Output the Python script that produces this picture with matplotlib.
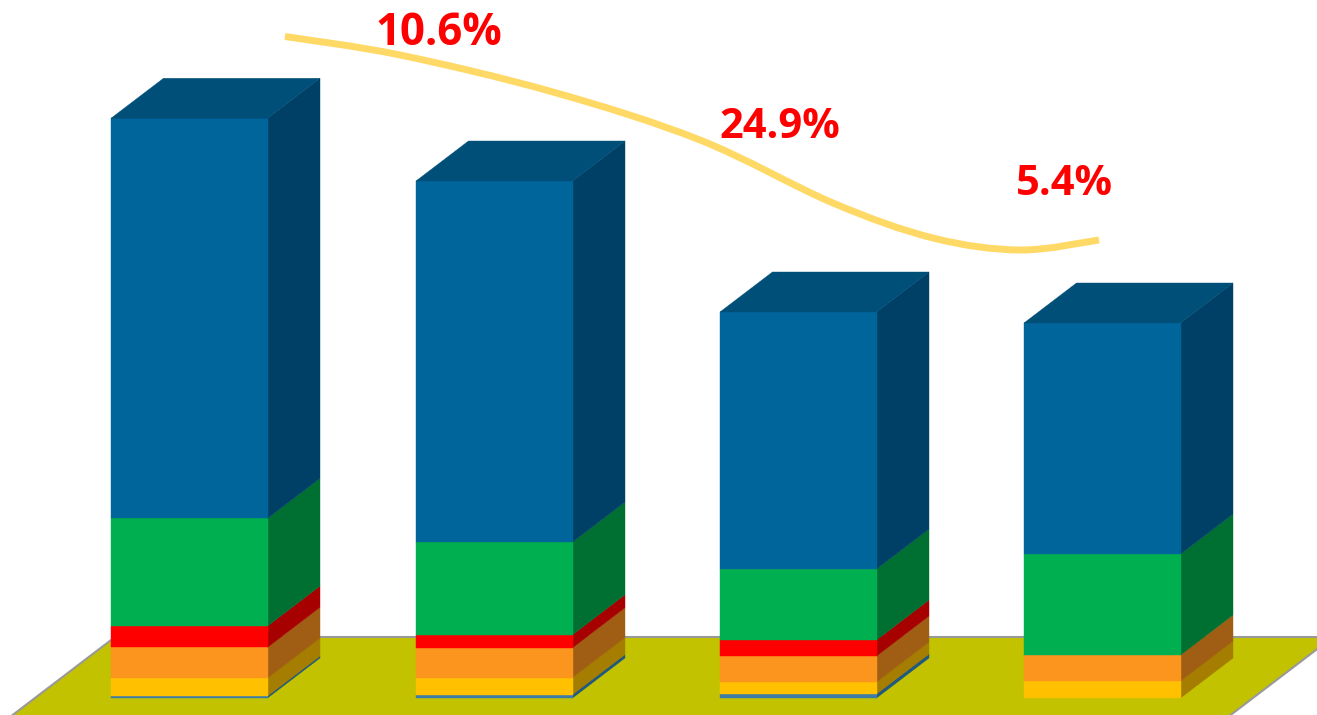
import matplotlib
matplotlib.use("Agg")
import matplotlib.pyplot as plt
from matplotlib.patches import Polygon, PathPatch
from matplotlib.path import Path

# Stacked segment heights, bottom to top
categories = ["A", "B", "C", "D"]
base_blue = [2, 3.5, 4, 0]
yellow = [18, 17, 12, 17]
orange = [30.7, 29.8, 26, 26]
red = [21.3, 13, 16, 0]
green = [107.7, 92.7, 71, 101]
blue = [400, 361, 257, 231]

growth_labels = ["10.6%", "24.9%", "5.4%"]
growth_label_x = [439, 779.5, 1064]
growth_label_y = [653, 560, 503]
growth_label_size = [31.5, 30, 30]

trend_x = [285, 400, 553, 700, 833, 933, 1020, 1099]
trend_y = [661.5, 643, 606, 558, 495, 460, 448, 458]

FRONT = ["#3E7CA6", "#FFC000", "#FC951E", "#FF0000", "#00B050", "#00659B"]
SIDE = ["#1F5880", "#A57D00", "#A05E14", "#A60000", "#006F32", "#003F66"]
TOP_COLOR = "#004F78"
FLOOR = "#C2C200"
BAR_LEFT = [111, 416, 720, 1024]
BAR_WIDTH = 156.5
DX, DY = 52.5, 40

fig = plt.figure(figsize=(13.17, 7.15), dpi=100)
ax = fig.add_axes([0, 0, 1, 1])
ax.set_xlim(0, 1317)
ax.set_ylim(-17, 698)
ax.axis("off")

# Floor plane behind the bars
ax.add_patch(Polygon([(-11, -35), (115, 61), (1333, 61), (1207, -35)], closed=True,
                     facecolor=FLOOR, edgecolor="#999999", linewidth=1.5, zorder=1))


def face(points, color):
    # A hairline edge in the fill colour closes the seams between faces
    ax.add_patch(Polygon(points, closed=True, facecolor=color, edgecolor=color,
                         linewidth=0.3, zorder=3))


series = [base_blue, yellow, orange, red, green, blue]
for i, left in enumerate(BAR_LEFT):
    right = left + BAR_WIDTH
    y0 = 0
    for vals, fc, sc in zip(series, FRONT, SIDE):
        h = vals[i]
        if h == 0:
            continue
        y1 = y0 + h
        face([(right, y0), (right + DX, y0 + DY), (right + DX, y1 + DY), (right, y1)], sc)
        face([(left, y0), (right, y0), (right, y1), (left, y1)], fc)
        y0 = y1
    face([(left, y0), (right, y0), (right + DX, y0 + DY), (left + DX, y0 + DY)], TOP_COLOR)

# Smooth trend curve: cubic segments through the listed points
pts = list(zip(trend_x, trend_y))
verts = [pts[0]]
codes = [Path.MOVETO]
for k in range(len(pts) - 1):
    p0 = pts[max(k - 1, 0)]
    p1 = pts[k]
    p2 = pts[k + 1]
    p3 = pts[min(k + 2, len(pts) - 1)]
    c1 = (p1[0] + (p2[0] - p0[0]) / 6, p1[1] + (p2[1] - p0[1]) / 6)
    c2 = (p2[0] - (p3[0] - p1[0]) / 6, p2[1] - (p3[1] - p1[1]) / 6)
    verts += [c1, c2, p2]
    codes += [Path.CURVE4] * 3
ax.add_patch(PathPatch(Path(verts, codes), facecolor="none", edgecolor="#FFD966",
                       linewidth=5, capstyle="butt", zorder=4))

for label, x, y, size in zip(growth_labels, growth_label_x, growth_label_y, growth_label_size):
    ax.text(x, y, label, color="#FF0000", fontsize=size, fontweight="bold",
            family="Open Sans", ha="center", va="baseline", zorder=5)

fig.savefig("out.png", dpi=100)
